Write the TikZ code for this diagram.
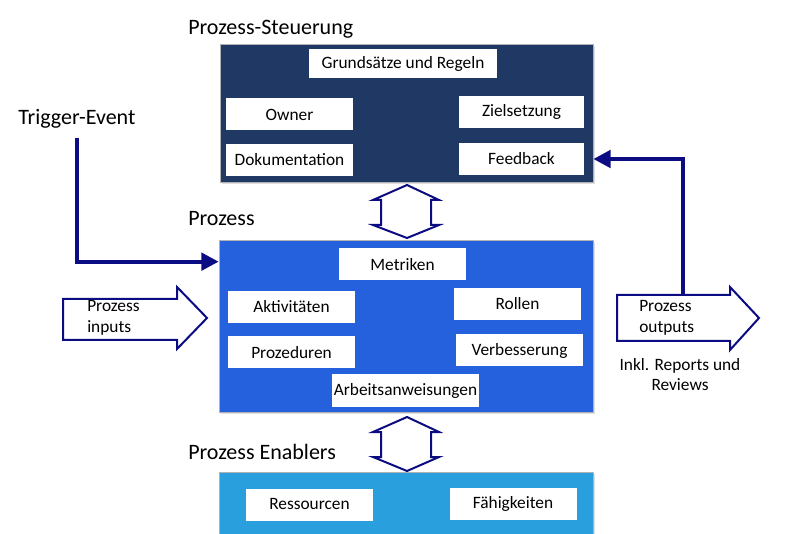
\documentclass[tikz,border=0pt]{standalone}
\usepackage{fontspec}
\setmainfont{Carlito}
\usetikzlibrary{arrows.meta,shadows}

\definecolor{steuer}{RGB}{32,56,100}
\definecolor{prozblau}{RGB}{37,97,221}
\definecolor{enabblau}{RGB}{41,160,221}
\definecolor{pfeil}{RGB}{12,12,130}

\begin{document}
\begin{tikzpicture}[x=0.75pt,y=0.75pt,yscale=-1,
  bigbox/.style={draw=black!30, line width=0.5pt, inner sep=0pt,
    drop shadow={opacity=0.25, shadow xshift=1.2pt, shadow yshift=-1.2pt}},
  wbox/.style={fill=white, inner sep=0pt, minimum width=95.25pt,
    minimum height=24pt, font=\fontsize{13}{15}\selectfont},
  head/.style={anchor=west, inner sep=0pt, font=\fontsize{16.5}{19}\selectfont},
  small/.style={inner sep=0pt, align=left, font=\fontsize{13}{15.5}\selectfont},
  flow/.style={draw=pfeil, line width=3pt, -{Triangle[length=13pt,width=13pt]}},
  block/.style={draw=pfeil, line width=1.5pt, fill=white, line join=miter}
]
\useasboundingbox (0,0) rectangle (785,534);
\clip (0,0) rectangle (785,534);

%Shape: Prozess-Steuerung
\node[bigbox, fill=steuer, minimum width=279.75pt, minimum height=103.5pt] (steu) at (406.5,113) {};
\node[head] (steulbl) at (188,29) {Prozess-Steuerung};
\node[wbox, minimum width=141pt, minimum height=21.75pt] (gru) at (403,63.5) {Grundsätze und Regeln};
\node[wbox] (own) at (289.5,114.5) {Owner};
\node[wbox] (dok) at (289.5,160) {Dokumentation};
\node[wbox, minimum width=93.75pt] (ziel) at (521.5,112) {Zielsetzung};
\node[wbox, minimum width=93.75pt] (feed) at (521.5,159) {Feedback};

%Shape: Prozess
\node[bigbox, fill=prozblau, minimum width=280.5pt, minimum height=129pt] (proc) at (406,326) {};
\node[head] (proclbl) at (188,219) {Prozess};
\node[wbox] (met) at (402.5,264.5) {Metriken};
\node[wbox] (akt) at (291.5,307) {Aktivitäten};
\node[wbox] (rol) at (517.5,304) {Rollen};
\node[wbox] (pzd) at (291.5,352.5) {Prozeduren};
\node[wbox] (verb) at (519.5,350.5) {Verbesserung};
\node[wbox, minimum width=110.25pt] (arb) at (405.5,390.5) {Arbeitsanweisungen};

%Shape: Prozess Enablers
\node[bigbox, fill=enabblau, minimum width=280.5pt, minimum height=54.75pt] (enab) at (406,508.5) {};
\node[head] (enablbl) at (188,452) {Prozess Enablers};
\node[wbox] (res) at (309.5,504.5) {Ressourcen};
\node[wbox] (fae) at (513,503.5) {Fähigkeiten};

%Up Down Arrows
\draw[block] (407,185) -- (439,200) -- (431,200) -- (431,225) -- (439,225) -- (407,238)
  -- (373,225) -- (381,225) -- (381,200) -- (373,200) -- cycle;
\draw[block] (407,417) -- (439,432) -- (431,432) -- (431,457) -- (439,457) -- (407,471)
  -- (373,457) -- (381,457) -- (381,432) -- (373,432) -- cycle;

%Right Arrow: inputs
\draw[block] (63,299) -- (177,299) -- (177,287) -- (207,318) -- (177,349) -- (177,340) -- (63,340) -- cycle;
\node[small, anchor=west] (inp) at (87,318) {Prozess\\inputs};

%Right Arrow: outputs
\draw[block] (617,295) -- (730,295) -- (730,287) -- (759,318) -- (730,350) -- (730,341) -- (617,341) -- cycle;
\node[small, anchor=west] (outp) at (639,318) {Prozess\\outputs};
\coordinate (outtop) at (683,296);
\node[small, align=center] (inkl) at (680,374.5) {Inkl. Reports und\\Reviews};

% Text Node
\node[head] (trig) at (18,119) {Trigger-Event};

%Connectors
\draw[flow] ([yshift=7pt]trig.south) |- ([yshift=16.5pt]proc.north west);
\draw[flow] (outtop) |- (steu.east |- feed);
\end{tikzpicture}
\end{document}
